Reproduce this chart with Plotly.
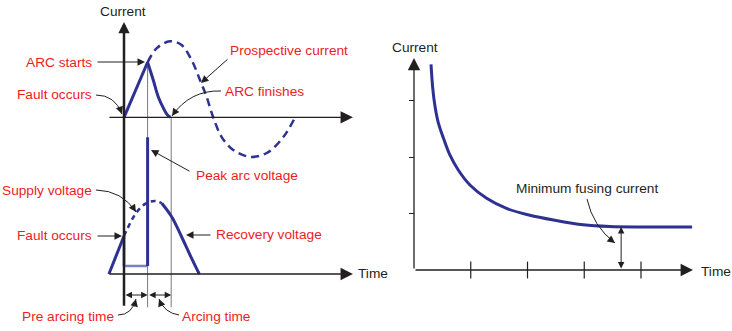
import math
import plotly.graph_objects as go

W, H = 732, 331
BLUE = "#2E3192"
BLUE_LIGHT = "#7C7FC4"
RED = "#ED1C24"
INK = "#231F20"
GREY = "#7A7A7A"
FONT = "Liberation Sans, Arial, sans-serif"

# ---------------- Left diagram: fuse operation on a fault ----------------
# time is measured in units of the pre-arcing interval (fault at t = 0)
t_fault, t_arc_start, t_arc_end = 0.0, 1.0, 2.0

# fuse current (solid): rise until the arc starts, then quenched to zero
rise_t = [0.0, 1.0]
rise_i = [0.0, 0.724]
quench_t = [1.0, 1.24, 1.45, 1.67, 1.84, 1.97]
quench_i = [0.724, 0.49, 0.27, 0.12, 0.03, 0.0]

# prospective current (dashed)
prosp_t = [1.0, 1.39, 1.95, 2.44, 2.87, 3.22, 3.50, 3.78, 4.14, 4.63, 5.34, 6.05, 6.75, 7.25]
prosp_i = [0.724, 0.91, 1.0, 0.95, 0.75, 0.49, 0.27, 0.0, -0.26, -0.43, -0.52, -0.47, -0.26, 0.0]

# supply voltage before the fault, its continuation (dashed) and the recovery voltage
supply_t = [-0.64, -0.30, 0.0]
supply_v = [0.0, 0.27, 0.52]
supply_dash_t = [0.0, 0.5, 0.9, 1.3, 1.6]
supply_dash_v = [0.52, 0.83, 0.96, 1.0, 0.97]
recovery_t = [1.6, 2.02, 2.44, 2.80, 3.19]
recovery_v = [0.97, 0.785, 0.51, 0.26, 0.0]

# voltage across the fuse: collapses at the fault, spikes when the arc strikes
arc_volt_low = 0.11
arc_volt_peak = 1.873

# ---------------- Right diagram: time-current characteristic ----------------
char_t = [0.30, 0.33, 0.37, 0.43, 0.52, 0.63, 0.78, 0.99, 1.28, 1.63, 2.04, 2.46, 2.98, 3.45, 4.90]
char_i = [3.64, 3.22, 2.90, 2.60, 2.33, 2.04, 1.77, 1.50, 1.27, 1.09, 0.97, 0.885, 0.80, 0.77, 0.76]
min_fusing = 0.76
min_fusing_t = 3.65
x_ticks = [1, 2, 3, 4]
y_ticks = [1, 2, 3]

fig = go.Figure()


def line(x, y, color=BLUE, width=3, dash="solid", shape="linear", xa="x", ya="y", smoothing=1.0):
    fig.add_trace(go.Scatter(x=x, y=y, mode="lines", xaxis=xa, yaxis=ya,
                             line=dict(color=color, width=width, dash=dash, shape=shape,
                                       smoothing=smoothing),
                             hoverinfo="skip", showlegend=False, cliponaxis=False))


# guide lines at arc start / arc end
line([t_arc_start, t_arc_start], [rise_i[-1], -2.5], color=GREY, width=1)
line([t_arc_end, t_arc_end], [0, -2.5], color=GREY, width=1)

# current panel
line(prosp_t, prosp_i, dash="8px,5px", shape="spline", width=2.5)
line(rise_t, rise_i)
line(quench_t, quench_i, shape="spline")

# voltage panel
line(supply_t, supply_v, ya="y2")
line(supply_dash_t, supply_dash_v, dash="5px,4px", shape="spline", width=2.5, ya="y2")
line(recovery_t, recovery_v, shape="spline", ya="y2")
line([t_fault, t_fault], [supply_v[-1], arc_volt_low], ya="y2", width=2.5)
line([t_fault, t_arc_start], [arc_volt_low, arc_volt_low], color=BLUE_LIGHT, width=2.5, ya="y2")
line([t_arc_start, t_arc_start], [arc_volt_low, arc_volt_peak], ya="y2")

# characteristic curve
line(char_t, char_i, shape="spline", xa="x3", ya="y3", smoothing=0.9)
fig.add_trace(go.Scatter(x=x_ticks, y=[0] * len(x_ticks), mode="markers", xaxis="x3", yaxis="y3",
                         marker=dict(symbol="line-ns", size=12, line=dict(color=INK, width=1.2)),
                         hoverinfo="skip", showlegend=False, cliponaxis=False))

# ---------------- axes ----------------
hidden = dict(visible=False, fixedrange=True)
fig.update_layout(
    width=W, height=H, autosize=False,
    margin=dict(l=0, r=0, t=0, b=0),
    paper_bgcolor="white", plot_bgcolor="rgba(0,0,0,0)",
    xaxis=dict(hidden, domain=[0, 0.5], range=[-5.2542, 10.2542]),
    yaxis=dict(hidden, domain=[0, 1], range=[-2.8118, 1.5434]),
    yaxis2=dict(hidden, domain=[0, 1], range=[-0.7808, 3.7534], overlaying="y"),
    xaxis3=dict(hidden, domain=[0.5, 1], range=[-0.8458, 5.6035], anchor="y3"),
    yaxis3=dict(visible=True, fixedrange=True, domain=[0, 1], range=[-1.0796, 4.7788],
                anchor="free", position=414 / W, showline=False, showgrid=False, zeroline=False,
                ticks="outside", ticklen=5, tickwidth=1.2, tickcolor=INK,
                tickvals=y_ticks, showticklabels=False),
)

ann = []


def axis_arrow(x0, y0, x1, y1, xr, yr, width=1.3, size=1.9):
    ann.append(dict(x=x1, y=y1, ax=x0, ay=y0, xref=xr, yref=yr, axref=xr, ayref=yr,
                    text="", showarrow=True, arrowhead=2, arrowsize=size,
                    arrowwidth=width, arrowcolor=INK))


def dim_arrow(x0, y0, x1, y1, xr, yr):
    ann.append(dict(x=x1, y=y1, ax=x0, ay=y0, xref=xr, yref=yr, axref=xr, ayref=yr,
                    text="", showarrow=True, arrowhead=2, startarrowhead=2, arrowside="end+start",
                    arrowsize=1.3, startarrowsize=1.3, arrowwidth=1, arrowcolor=INK))


# left diagram axes
axis_arrow(t_fault, -2.5, t_fault, 1.254, "x", "y", width=2.5, size=0.9)
axis_arrow(-0.68, 0, 9.70, 0, "x", "y")
axis_arrow(-0.68, 0, 9.70, 0, "x", "y2")
# right diagram axes
axis_arrow(0, 0, 0, 3.752, "x3", "y3")
axis_arrow(0, 0, 4.916, 0, "x3", "y3")

# pre-arcing and arcing intervals
dim_arrow(t_fault, -0.288, t_arc_start, -0.288, "x", "y2")
dim_arrow(t_arc_start, -0.288, t_arc_end, -0.288, "x", "y2")
# minimum fusing current
dim_arrow(min_fusing_t, 0, min_fusing_t, min_fusing, "x3", "y3")


def px(x):
    return x / W


def py(y):
    return 1 - y / H


def label(text, x, y, xanchor, color=RED):
    ann.append(dict(text=text, x=px(x), y=py(y), xref="paper", yref="paper",
                    xanchor=xanchor, yanchor="middle", showarrow=False,
                    font=dict(family=FONT, size=13.7, color=color)))


def pointer(tip, tail):
    ann.append(dict(x=px(tip[0]), y=py(tip[1]), xref="paper", yref="paper",
                    ax=tail[0] - tip[0], ay=tail[1] - tip[1], text="", showarrow=True,
                    arrowhead=2, arrowsize=1.5, arrowwidth=1, arrowcolor=INK))


shapes = []


def curved_pointer(p0, c, p1):
    path = "M {:.5f},{:.5f} Q {:.5f},{:.5f} {:.5f},{:.5f}".format(
        px(p0[0]), py(p0[1]), px(c[0]), py(c[1]), px(p1[0]), py(p1[1]))
    shapes.append(dict(type="path", path=path, xref="paper", yref="paper",
                       line=dict(color=INK, width=1)))
    dx, dy = p1[0] - c[0], p1[1] - c[1]
    n = math.hypot(dx, dy)
    pointer(p1, (p1[0] - dx / n * 9, p1[1] - dy / n * 9))


# left diagram labels
label("Current", 123, 11, "center", color=INK)
label("ARC starts", 94, 62, "right")
pointer((145, 62), (96, 62))
label("Prospective current", 228, 51, "left")
pointer((201, 83), (229, 58))
label("Fault occurs", 94, 94, "right")
curved_pointer((96, 95), (115, 95), (122, 114))
label("ARC finishes", 223, 91, "left")
curved_pointer((221, 91), (190, 90), (172, 116))
label("Peak arc voltage", 194, 175, "left")
pointer((151, 150), (191, 172))
label("Supply voltage", 94, 190, "right")
curved_pointer((96, 190), (122, 190.5), (136, 212))
label("Fault occurs", 94, 235, "right")
pointer((122, 236), (96, 236))
label("Recovery voltage", 214, 234, "left")
pointer((186, 235), (212, 235))
label("Time", 356, 273, "left", color=INK)
label("Pre arcing time", 116, 316, "right")
curved_pointer((118, 315), (132, 315), (136, 299))
label("Arcing time", 180, 316, "left")
curved_pointer((179, 315), (164.5, 313), (159, 299))

# right diagram labels
label("Current", 415, 47, "center", color=INK)
label("Minimum fusing current", 514, 188, "left", color=INK)
curved_pointer((587, 199), (593, 226.5), (615, 243))
label("Time", 699, 271, "left", color=INK)

fig.update_layout(annotations=ann, shapes=shapes)
fig.write_html("out.html")
